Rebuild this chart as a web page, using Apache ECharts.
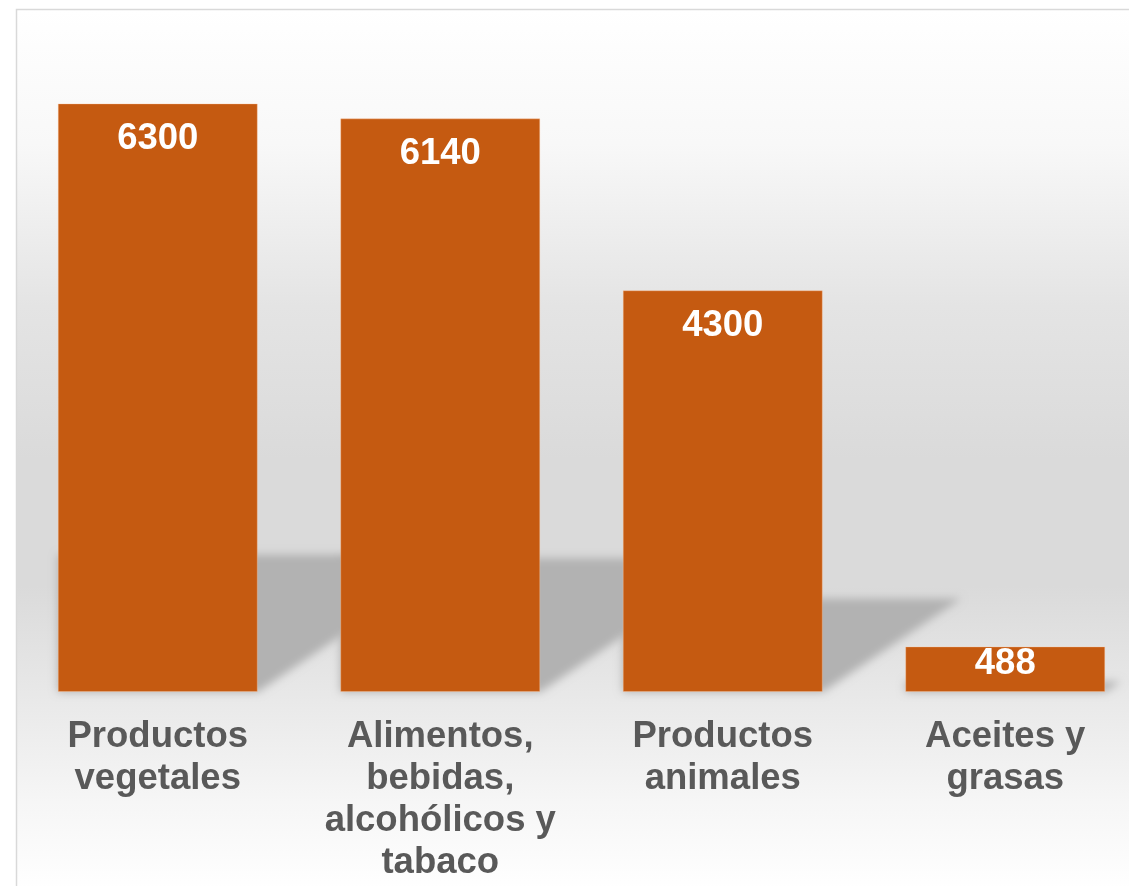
<!DOCTYPE html>
<html>
<head>
<meta charset="utf-8">
<style>
html,body{margin:0;padding:0;background:#ffffff;overflow:hidden;width:1129px;height:886px;}
#chart{width:1160px;height:886px;}
</style>
<script src="https://cdn.jsdelivr.net/npm/echarts@6/dist/echarts.min.js"></script>
</head>
<body>
<div id="chart"></div>
<script>
var categories = ['Productos\nvegetales', 'Alimentos,\nbebidas,\nalcohólicos y\ntabaco', 'Productos\nanimales', 'Aceites y\ngrasas'];
var values = [6300, 6140, 4300, 488];

var BAR_RATIO = 0.708;
var FONT = '"Liberation Sans", Arial, sans-serif';

var chart = echarts.init(document.getElementById('chart'));

var barData = values.map(function (v, i) {
  if (v < 1000) {
    return { value: v, label: { distance: -0.5 } };
  }
  return v;
});

var OFF = 3000;
function renderShadow(params, api) {
  var idx = api.value(0);
  var val = api.value(1);
  var top = api.coord([idx, val]);
  var base = api.coord([idx, 0]);
  var bw = api.size([1, 0])[0] * BAR_RATIO;
  var left = top[0] - bw / 2;
  var right = top[0] + bw / 2;
  var h = (base[1] - top[1]) * 0.233;
  var sTop = base[1] - h;
  var pts = [
    [left - OFF, base[1]],
    [left - OFF, sTop],
    [right + h * 1.48 - OFF, sTop],
    [right - OFF, base[1]]
  ];
  return {
    type: 'polygon',
    shape: { points: pts },
    style: {
      fill: '#b2b2b2',
      shadowBlur: 9,
      shadowColor: '#b2b2b2',
      shadowOffsetX: OFF,
      shadowOffsetY: 0
    }
  };
}

var option = {
  animation: false,
  backgroundColor: 'transparent',
  graphic: {
    elements: [
      {
        type: 'rect',
        z: -100,
        silent: true,
        shape: { x: 16.5, y: 9.5, width: 1130, height: 900 },
        style: {
          fill: {
            type: 'linear', x: 0, y: 0, x2: 0, y2: 1,
            colorStops: [
              { offset: 0, color: '#ffffff' },
              { offset: 0.15, color: '#f8f8f8' },
              { offset: 0.33, color: '#e4e4e4' },
              { offset: 0.50, color: '#dadada' },
              { offset: 0.64, color: '#dadada' },
              { offset: 0.76, color: '#e8e8e8' },
              { offset: 0.88, color: '#f6f6f6' },
              { offset: 0.98, color: '#ffffff' }
            ]
          },
          stroke: '#d9d9d9',
          lineWidth: 1.5
        }
      }
    ]
  },
  grid: {
    left: 16.5,
    width: 1130,
    top: 38,
    bottom: 194,
    containLabel: false
  },
  xAxis: {
    type: 'category',
    data: categories,
    axisLine: { show: false },
    axisTick: { show: false },
    axisLabel: {
      interval: 0,
      margin: 24,
      color: '#595959',
      fontFamily: FONT,
      fontWeight: 'bold',
      fontSize: 36.5,
      lineHeight: 42,
      align: 'center'
    }
  },
  yAxis: {
    type: 'value',
    min: 0,
    max: 7000,
    show: false,
    splitLine: { show: false }
  },
  series: [
    {
      type: 'custom',
      z: 1,
      silent: true,
      renderItem: renderShadow,
      data: values.map(function (v, i) { return [i, v]; }),
      encode: { x: 0, y: 1 }
    },
    {
      type: 'bar',
      z: 3,
      data: barData,
      barWidth: (BAR_RATIO * 100) + '%',
      itemStyle: {
        color: '#c55a11',
        borderColor: 'rgba(255,200,160,0.35)',
        borderWidth: 1
      },
      label: {
        show: true,
        position: 'insideTop',
        distance: 18,
        color: '#ffffff',
        fontFamily: FONT,
        fontWeight: 'bold',
        fontSize: 36.5,
        lineHeight: 36
      }
    }
  ]
};

chart.setOption(option);
</script>
</body>
</html>
